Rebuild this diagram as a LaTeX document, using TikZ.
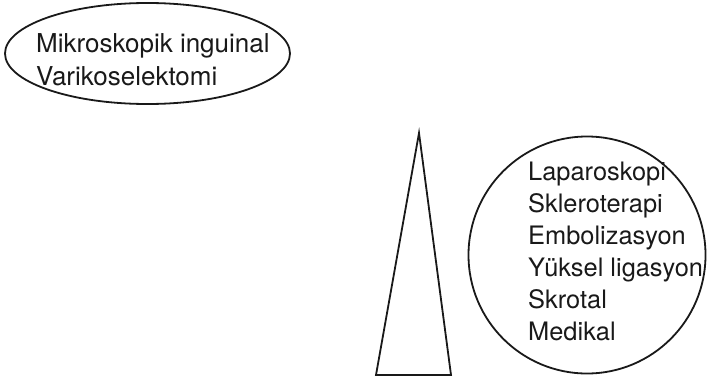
\documentclass[tikz,border=0pt]{standalone}
\usepackage{fontspec}
\setmainfont{TeX Gyre Heros}
\begin{document}
\begin{tikzpicture}[x=1pt,y=-1pt,
  outline/.style={draw=black!90,line width=1.8pt},
  lbl/.style={anchor=base west,inner sep=0pt,font=\fontsize{25.4}{30}\selectfont,text=black!90}]
\useasboundingbox (0,0) rectangle (708,380);
% ellipse
\draw[outline] (147.5,53.5) ellipse [x radius=142.5, y radius=50.5];
\node[lbl,font=\fontsize{26}{30}\selectfont] (m1) at (36,52.5) {Mikroskopik inguinal};
\node[lbl,font=\fontsize{26}{30}\selectfont] (m2) at (36,85) {Varikoselektomi};
% triangle
\coordinate (apex) at (419,133);
\coordinate (bl) at (376,375);
\coordinate (br) at (451,375);
\draw[outline,line join=miter] (apex) -- (bl) -- (br) -- cycle;
% circle
\draw[outline] (587,255) circle [radius=118.5];
\node[lbl] (r1) at (528,180) {Laparoskopi};
\node[lbl] (r2) at (528,212) {Skleroterapi};
\node[lbl] (r3) at (528,244) {Embolizasyon};
\node[lbl] (r4) at (528,276) {Yüksel ligasyon};
\node[lbl] (r5) at (528,308) {Skrotal};
\node[lbl] (r6) at (528,340) {Medikal};
\end{tikzpicture}
\end{document}
